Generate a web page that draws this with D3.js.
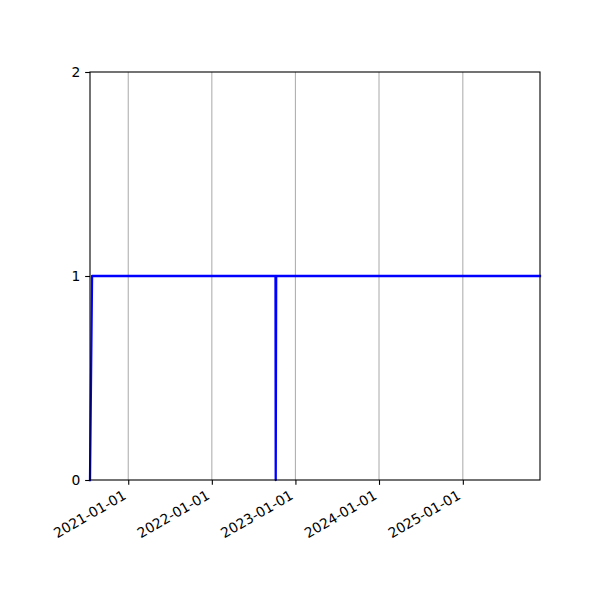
<!DOCTYPE html>
<html><head><meta charset="utf-8">
<script src="https://cdn.jsdelivr.net/npm/d3@7"></script>
<style>body{margin:0;background:#fff}svg{display:block}text{font-family:"DejaVu Sans",sans-serif;font-size:13.89px;fill:#000}</style>
</head><body>
<svg id="c" width="600" height="600"></svg>
<script>
const dates = ["2020-07-18","2020-07-27","2022-10-06","2022-10-07","2022-10-09","2025-12-04"];
const values = [0,1,1,0,1,1];
const xTickLabels = ["2021-01-01","2022-01-01","2023-01-01","2024-01-01","2025-01-01"];
const yTicks = [0,1,2];

const parse = d3.utcParse("%Y-%m-%d");
const data = dates.map((d,i)=>({t:parse(d), v:values[i]}));
const L=90,R=540,T=72,B=480;
const svg = d3.select("#c");
svg.append("rect").attr("width",600).attr("height",600).attr("fill","#fff");
const x = d3.scaleUtc().domain(d3.extent(data,d=>d.t)).range([L,R]);
const y = d3.scaleLinear().domain([0,2]).range([B,T]);
const xt = xTickLabels.map(parse);
// grid
svg.append("g").selectAll("line").data(xt).join("line")
  .attr("x1",d=>x(d)).attr("x2",d=>x(d)).attr("y1",T).attr("y2",B)
  .attr("stroke","#b0b0b0").attr("stroke-width",1.1);
// line
svg.append("path").datum(data)
  .attr("d", d3.line().x(d=>x(d.t)).y(d=>y(d.v)))
  .attr("fill","none").attr("stroke","#0000ff").attr("stroke-width",2.3)
  .attr("stroke-linejoin","round").attr("stroke-linecap","square");
// spines
svg.append("rect").attr("x",L).attr("y",T).attr("width",R-L).attr("height",B-T)
  .attr("fill","none").attr("stroke","#000").attr("stroke-width",1.1);
// x axis
const xa = svg.append("g").attr("transform",`translate(0,${B})`)
  .call(d3.axisBottom(x).tickValues(xt).tickFormat(d3.utcFormat("%Y-%m-%d")).tickSize(4.86).tickPadding(0));
xa.select(".domain").remove();
xa.selectAll(".tick line").attr("stroke","#000").attr("stroke-width",1.1);
xa.selectAll(".tick text").attr("text-anchor","end").attr("dy",null).attr("y",0)
  .attr("transform","translate(-7,9) rotate(-30)").attr("dy","0.76em").style("font-size","13.89px");
// y axis
const ya = svg.append("g").attr("transform",`translate(${L},0)`)
  .call(d3.axisLeft(y).tickValues(yTicks).tickFormat(d3.format("d")).tickSize(4.86).tickPadding(4.86));
ya.select(".domain").remove();
ya.selectAll(".tick line").attr("stroke","#000").attr("stroke-width",1.1);
ya.selectAll(".tick text").style("font-size","13.89px");
</script>
</body></html>
